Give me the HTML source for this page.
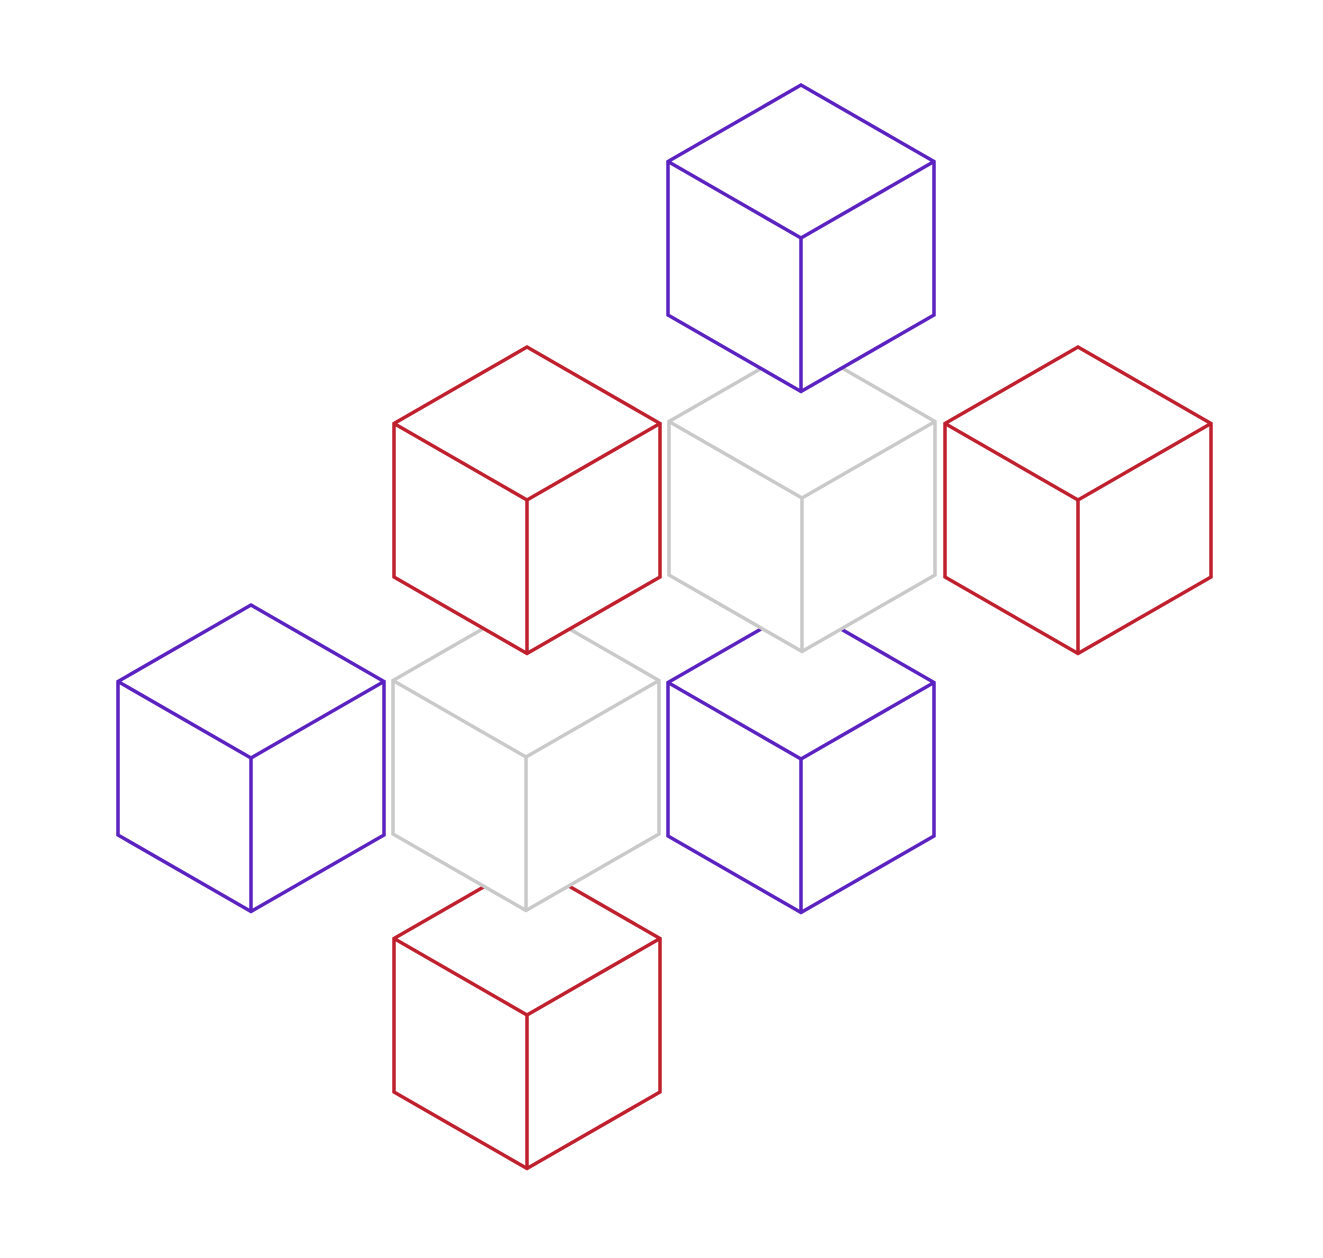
<!DOCTYPE html>
<html>
<head>
<meta charset="utf-8">
<style>
  html, body { margin: 0; padding: 0; background: #ffffff; }
  svg { display: block; }
</style>
</head>
<body>
<svg id="chart" width="1323" height="1258" viewBox="0 0 1323 1258" xmlns="http://www.w3.org/2000/svg"></svg>
<script>
// Cube data (in drawing order, back to front): top-vertex position and series color
const cubeNames = ['red-bottom', 'purple-middle', 'purple-left', 'gray-lower', 'gray-upper', 'red-top-left', 'red-right', 'purple-top'];
const cubeX = [527, 801, 251, 526, 802, 527, 1078, 801];
const cubeY = [862, 606, 605, 604, 345, 347, 347, 85];
const cubeSeries = ['red', 'purple', 'purple', 'gray', 'gray', 'red', 'red', 'purple'];
const seriesColors = { red: '#c01f2e', purple: '#5b22c1', gray: '#c9c9c9' };

const svg = document.getElementById('chart');
const NS = 'http://www.w3.org/2000/svg';
const halfW = 133, dy = 76.5, h = 153.5;

function pt(x, y) { return x + ',' + y; }

for (let i = 0; i < cubeX.length; i++) {
  const x = cubeX[i], y = cubeY[i];
  const color = seriesColors[cubeSeries[i]];
  const g = document.createElementNS(NS, 'g');
  
  

  const hex = document.createElementNS(NS, 'polygon');
  
  
  hex.setAttribute('points', [
    pt(x, y), pt(x + halfW, y + dy), pt(x + halfW, y + dy + h),
    pt(x, y + 2 * dy + h), pt(x - halfW, y + dy + h), pt(x - halfW, y + dy)
  ].join(' '));
  hex.setAttribute('fill', '#ffffff');
  hex.setAttribute('stroke', color);
  hex.setAttribute('stroke-width', '3.5');
  hex.setAttribute('stroke-linejoin', 'miter');
  g.appendChild(hex);

  const inner = document.createElementNS(NS, 'polyline');
  
  
  inner.setAttribute('points', [
    pt(x - halfW, y + dy), pt(x, y + 2 * dy), pt(x + halfW, y + dy)
  ].join(' '));
  inner.setAttribute('fill', 'none');
  inner.setAttribute('stroke', color);
  inner.setAttribute('stroke-width', '3.5');
  g.appendChild(inner);

  const vert = document.createElementNS(NS, 'line');
  
  
  vert.setAttribute('x1', x); vert.setAttribute('y1', y + 2 * dy);
  vert.setAttribute('x2', x); vert.setAttribute('y2', y + 2 * dy + h);
  vert.setAttribute('stroke', color);
  vert.setAttribute('stroke-width', '3.5');
  g.appendChild(vert);

  svg.appendChild(g);
}
</script>
</body>
</html>
